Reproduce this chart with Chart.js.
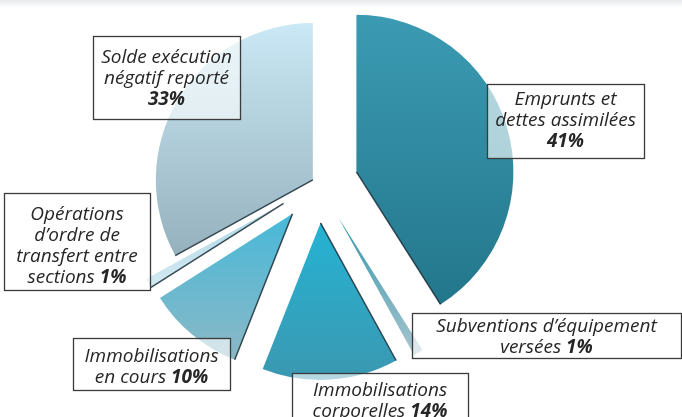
<!DOCTYPE html>
<html lang="fr">
<head>
<meta charset="utf-8">
<title>Répartition des dépenses</title>
<script src="https://cdn.jsdelivr.net/npm/chart.js@4.4.1/dist/chart.umd.min.js"></script>
<style>
  html, body { margin: 0; padding: 0; background: #fff; }
  #wrap {
    position: relative;
    width: 682px;
    height: 417px;
    background: linear-gradient(#e6e9eb 0px, #ffffff 8px);
  }
</style>
</head>
<body>
<div id="wrap"><canvas id="pieChart" width="682" height="417"></canvas></div>
<script>
const categories = [
  "Emprunts et dettes assimilées",
  "Subventions d’équipement versées",
  "Immobilisations corporelles",
  "Immobilisations en cours",
  "Opérations d’ordre de transfert entre sections",
  "Solde exécution négatif reporté",
];
const shares = [41, 1, 14, 10, 1, 33];

// line breaks of each callout; the percentage is appended in bold to the last line
const labelLines = [
  ["Emprunts et", "dettes assimilées", ""],
  ["Subventions d’équipement", "versées "],
  ["Immobilisations", "corporelles "],
  ["Immobilisations", "en cours "],
  ["Opérations", "d’ordre de", "transfert entre", "sections "],
  ["Solde exécution", "négatif reporté", ""],
];

// callout boxes (x, y, w, h, first line y)
const boxes = [
  { x: 487, y: 84, w: 157, h: 74, ty: 100 },
  { x: 412, y: 313, w: 269, h: 45, ty: 327 },
  { x: 292, y: 373, w: 176, h: 60, ty: 391 },
  { x: 73, y: 338, w: 157, h: 52, ty: 357 },
  { x: 4, y: 193, w: 146, h: 97, ty: 215 },
  { x: 93, y: 36, w: 147, h: 83, ty: 58 },
];

const sliceTop = ["#3b9bb3", "#3595ad", "#25b3d3", "#47b9d8", "#a9d5e4", "#cae8f5"];
const sliceBottom = ["#23768b", "#a9c6cf", "#3b98b1", "#8bb8c6", "#d4eaf2", "#95b1bd"];
const explode = [40, 40, 40, 40, 40, 6];
const darkEdge = ["end", null, "start", "start", "start", "start"];

const FONT = '"Open Sans", "Noto Sans", sans-serif';
const FONT_SIZE = 19;
const LINE_H = 21;

// pull the slices out of the centre and give each its own vertical gradient
const explodePlugin = {
  id: "explode",
  afterDatasetsUpdate(chart) {
    const ctx = chart.ctx;
    chart.getDatasetMeta(0).data.forEach((el, i) => {
      const half = (el.startAngle + el.endAngle) / 2;
      el.x += Math.cos(half) * explode[i];
      el.y += Math.sin(half) * explode[i];
      let minY = el.y, maxY = el.y;
      for (let k = 0; k <= 24; k++) {
        const a = el.startAngle + (el.endAngle - el.startAngle) * k / 24;
        const py = el.y + Math.sin(a) * el.outerRadius;
        minY = Math.min(minY, py);
        maxY = Math.max(maxY, py);
      }
      const g = ctx.createLinearGradient(0, minY, 0, maxY);
      g.addColorStop(0, sliceTop[i]);
      g.addColorStop(1, sliceBottom[i]);
      el.options.backgroundColor = g;
    });
  },
};

const edgePlugin = {
  id: "edges",
  afterDatasetsDraw(chart) {
    const ctx = chart.ctx;
    ctx.save();
    ctx.strokeStyle = "rgba(25,45,55,0.85)";
    ctx.lineWidth = 1.5;
    chart.getDatasetMeta(0).data.forEach((el, i) => {
      if (!darkEdge[i]) return;
      const a = darkEdge[i] === "start" ? el.startAngle : el.endAngle;
      ctx.beginPath();
      ctx.moveTo(el.x, el.y);
      ctx.lineTo(el.x + Math.cos(a) * el.outerRadius, el.y + Math.sin(a) * el.outerRadius);
      ctx.stroke();
    });
    ctx.restore();
  },
};

const calloutPlugin = {
  id: "callouts",
  afterDraw(chart) {
    const ctx = chart.ctx;
    ctx.save();
    boxes.forEach((b, i) => {
      ctx.fillStyle = "rgba(255,255,255,0.62)";
      ctx.fillRect(b.x, b.y, b.w, b.h);
      ctx.strokeStyle = "#3b3b3b";
      ctx.lineWidth = 1.3;
      ctx.strokeRect(b.x + 0.5, b.y + 0.5, b.w, b.h);

      const lines = labelLines[i];
      const cx = b.x + b.w / 2;
      ctx.fillStyle = "#262626";
      ctx.textBaseline = "middle";
      ctx.textAlign = "left";
      lines.forEach((txt, k) => {
        const pct = k === lines.length - 1 ? shares[i] + "%" : "";
        ctx.font = `italic 400 ${FONT_SIZE}px ${FONT}`;
        const w1 = ctx.measureText(txt).width;
        ctx.font = `italic 700 ${FONT_SIZE}px ${FONT}`;
        const w2 = ctx.measureText(pct).width;
        const x0 = cx - (w1 + w2) / 2;
        const y = b.ty + k * LINE_H;
        ctx.font = `italic 400 ${FONT_SIZE}px ${FONT}`;
        ctx.fillText(txt, x0, y);
        ctx.font = `italic 700 ${FONT_SIZE}px ${FONT}`;
        ctx.fillText(pct, x0 + w1, y);
      });
    });
    ctx.restore();
  },
};

new Chart(document.getElementById("pieChart"), {
  type: "pie",
  data: {
    labels: categories,
    datasets: [
      {
        data: shares,
        backgroundColor: (c) => sliceTop[c.dataIndex],
        borderWidth: 0,
        radius: 157,
      },
    ],
  },
  options: {
    responsive: false,
    animation: false,
    events: [],
    layout: {
      padding: { left: 0, right: 46, top: 0, bottom: 51 },
    },
    plugins: {
      legend: { display: false },
      tooltip: { enabled: false },
      title: { display: false },
    },
  },
  plugins: [explodePlugin, edgePlugin, calloutPlugin],
});
</script>
</body>
</html>
